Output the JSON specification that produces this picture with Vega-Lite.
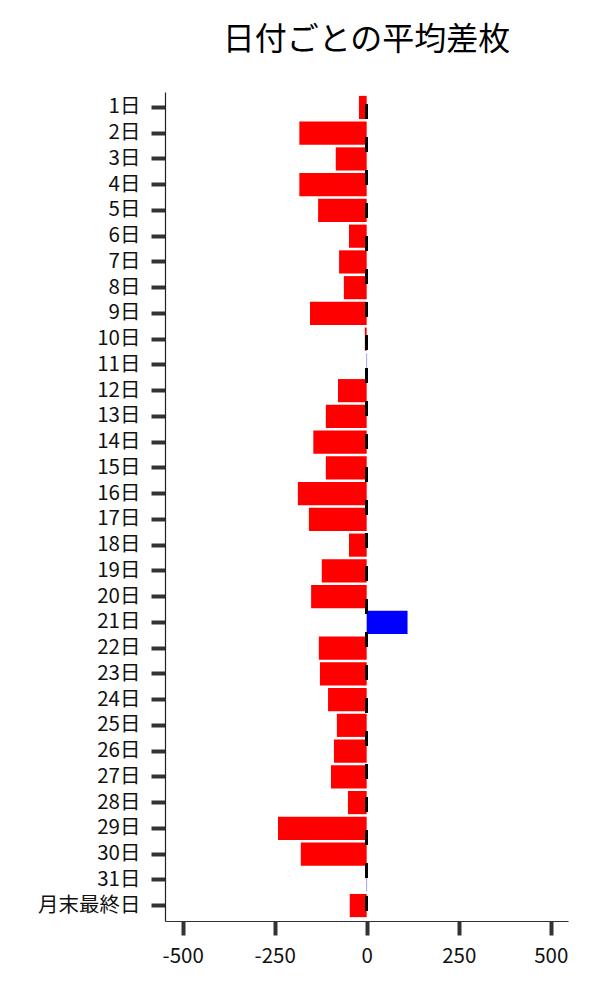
{
  "$schema": "https://vega.github.io/schema/vega-lite/v6.json",
  "autosize": {"type": "none"},
  "padding": {"left": 165, "top": 92, "right": 32, "bottom": 79},
  "width": 403,
  "height": 829,
  "background": "white",
  "title": {"text": "日付ごとの平均差枚", "fontSize": 32, "font": "Noto Sans CJK JP", "fontWeight": "normal", "color": "black", "offset": 34},
  "config": {"view": {"stroke": null}, "font": "Noto Sans CJK JP"},
  "data": {"values": [
    {"day": "1日", "diff": -21},
    {"day": "2日", "diff": -183},
    {"day": "3日", "diff": -84},
    {"day": "4日", "diff": -183},
    {"day": "5日", "diff": -132},
    {"day": "6日", "diff": -48},
    {"day": "7日", "diff": -75},
    {"day": "8日", "diff": -62},
    {"day": "9日", "diff": -154},
    {"day": "10日", "diff": -5},
    {"day": "11日", "diff": 1},
    {"day": "12日", "diff": -78},
    {"day": "13日", "diff": -111},
    {"day": "14日", "diff": -145},
    {"day": "15日", "diff": -111},
    {"day": "16日", "diff": -187},
    {"day": "17日", "diff": -157},
    {"day": "18日", "diff": -48},
    {"day": "19日", "diff": -122},
    {"day": "20日", "diff": -151},
    {"day": "21日", "diff": 111},
    {"day": "22日", "diff": -130},
    {"day": "23日", "diff": -127},
    {"day": "24日", "diff": -105},
    {"day": "25日", "diff": -81},
    {"day": "26日", "diff": -89},
    {"day": "27日", "diff": -97},
    {"day": "28日", "diff": -51},
    {"day": "29日", "diff": -241},
    {"day": "30日", "diff": -179},
    {"day": "31日", "diff": 1},
    {"day": "月末最終日", "diff": -46}
  ]},
  "layer": [
    {
      "mark": {"type": "bar"},
      "encoding": {
        "y": {
          "field": "day", "type": "nominal", "sort": null,
          "scale": {"paddingInner": 0.1, "paddingOuter": 0.15},
          "axis": {"title": null, "grid": false, "domainColor": "#222", "domainWidth": 1.2, "tickColor": "#333", "tickWidth": 4, "tickSize": 14, "labelFontSize": 20.5, "labelPadding": 11, "labelColor": "#111", "labelFont": "Noto Sans CJK JP"}
        },
        "x": {
          "field": "diff", "type": "quantitative",
          "scale": {"domain": [-548, 547], "nice": false, "zero": false},
          "axis": {"title": null, "grid": false, "values": [-500, -250, 0, 250, 500], "domainColor": "#333", "domainWidth": 1.2, "tickColor": "#333", "tickWidth": 4, "tickSize": 14, "labelFontSize": 20.5, "labelPadding": 11, "labelColor": "#111", "labelFont": "Noto Sans CJK JP", "labelExpr": "replace(datum.label, '\u2212', '-')"}
        },
        "color": {"condition": {"test": "datum.diff < 0", "value": "#ff0000"}, "value": "#0000ff"}
      }
    },
    {
      "mark": {"type": "rule", "color": "black", "strokeWidth": 2, "strokeDash": [15, 18], "strokeDashOffset": 21},
      "encoding": {"x": {"datum": 0}}
    }
  ]
}
